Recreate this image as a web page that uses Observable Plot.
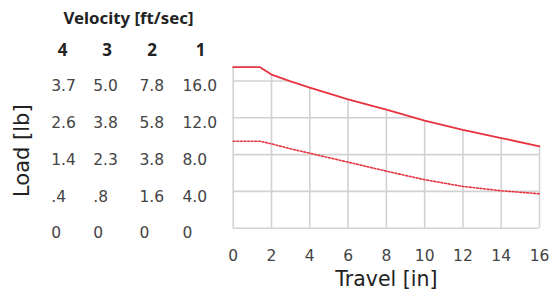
<!DOCTYPE html>
<html>
<head>
<meta charset="utf-8">
<script src="https://cdn.jsdelivr.net/npm/d3@7"></script>
<script src="https://cdn.jsdelivr.net/npm/@observablehq/plot@0.6"></script>
<style>
  html, body { margin: 0; padding: 0; background: #fff; }
  svg { display: block; }
</style>
</head>
<body>
<div id="chart"></div>
<script>
// ---- data ----
const travel = [0, 1.4, 2, 3, 4, 6, 8, 10, 12, 14, 16];
const loadSolid = [17.5, 17.5, 16.7, 15.95, 15.28, 14.0, 12.9, 11.7, 10.7, 9.8, 8.9];
const loadDotted = [9.45, 9.45, 9.17, 8.63, 8.15, 7.18, 6.2, 5.27, 4.54, 4.07, 3.74];

const xTicks = [0, 2, 4, 6, 8, 10, 12, 14, 16];
const loadRows = [16, 12, 8, 4, 0];
const velocityHeaders = ["4", "3", "2", "1"];
const vel4 = ["3.7", "2.6", "1.4", ".4", "0"];
const vel3 = ["5.0", "3.8", "2.3", ".8", "0"];
const vel2 = ["7.8", "5.8", "3.8", "1.6", "0"];
const vel1 = ["16.0", "12.0", "8.0", "4.0", "0"];
const titleText = "Velocity [ft/sec]";
const yLabel = "Load [lb]";
const xLabel = "Travel [in]";

// ---- derived ----
const solid = travel.map((t, i) => ({x: t, y: loadSolid[i]}));
const dotted = travel.map((t, i) => ({x: t, y: loadDotted[i]}));

function solidAt(x) {
  for (let i = 0; i < travel.length - 1; i++) {
    if (x >= travel[i] && x <= travel[i + 1]) {
      const f = (x - travel[i]) / (travel[i + 1] - travel[i]);
      return loadSolid[i] + f * (loadSolid[i + 1] - loadSolid[i]);
    }
  }
  return loadSolid[loadSolid.length - 1];
}
function crossX(v) {
  for (let i = 0; i < travel.length - 1; i++) {
    const a = loadSolid[i], b = loadSolid[i + 1];
    if (a >= v && b <= v && a !== b) {
      return travel[i] + (a - v) / (a - b) * (travel[i + 1] - travel[i]);
    }
  }
  return travel[travel.length - 1];
}
const vGrid = xTicks.map(x => ({x, y2: solidAt(x)}));
const hGrid = loadRows.map(y => ({y, x2: crossX(y)}));

const red = "#e8333f";
const grid = "#d2d2d2";
const txt = "#444";
const numFont = "'DejaVu Sans', sans-serif";
const boldFont = "'Noto Sans', sans-serif";

const cols = [vel4, vel3, vel2, vel1];
const colDx = [-182, -140, -93.7, -50.7];
const headDx = [-170.7, -126, -81, -32.7];

const tableMarks = cols.map((col, c) =>
  Plot.text(loadRows.map((r, i) => ({y: r, label: col[i]})), {
    x: () => 0, y: "y", text: "label",
    textAnchor: "start", lineAnchor: "middle", dx: colDx[c], dy: 5.3,
    fontSize: 15.5, fill: txt, fontFamily: numFont
  })
);
const headMarks = velocityHeaders.map((h, c) =>
  Plot.text([h], {
    frameAnchor: "top-left", text: d => d, textAnchor: "middle", lineAnchor: "middle",
    dx: headDx[c], dy: -16.2, fontSize: 17, fontWeight: "bold", fill: "#222", fontFamily: boldFont
  })
);

const chart = Plot.plot({
  width: 554,
  height: 297,
  marginLeft: 232.7,
  marginRight: 15,
  marginTop: 66.7,
  marginBottom: 69.3,
  style: {fontFamily: numFont, background: "#fff"},
  x: {domain: [0, 16], axis: null},
  y: {domain: [0, 17.5], axis: null},
  marks: [
    Plot.ruleX(vGrid, {x: "x", y1: 0, y2: "y2", stroke: grid, strokeWidth: 1.6}),
    Plot.ruleY(hGrid, {y: "y", x1: 0, x2: "x2", stroke: grid, strokeWidth: 1.6}),
    Plot.line(dotted, {x: "x", y: "y", stroke: red, strokeWidth: 1.6, strokeDasharray: "1.8,1.8"}),
    Plot.line(solid, {x: "x", y: "y", stroke: red, strokeWidth: 1.8}),
    Plot.text(xTicks, {x: d => d, frameAnchor: "bottom", lineAnchor: "middle", text: d => String(d),
      dy: 27.5, fontSize: 15.5, fill: txt}),
    Plot.text([xLabel], {frameAnchor: "bottom", lineAnchor: "middle", textAnchor: "middle", text: d => d,
      dy: 51, fontSize: 20.5, fill: "#222"}),
    Plot.text([yLabel], {frameAnchor: "left", lineAnchor: "middle", textAnchor: "middle", text: d => d,
      dx: -210.7, dy: 3, rotate: -90, fontSize: 21, fill: "#222"}),
    Plot.text([titleText], {frameAnchor: "top-left", lineAnchor: "middle", textAnchor: "middle", text: d => d,
      dx: -104.7, dy: -48.7, fontSize: 16.8, fontWeight: "bold", fill: "#222", fontFamily: boldFont}),
    ...headMarks,
    ...tableMarks
  ]
});
document.getElementById("chart").appendChild(chart);
</script>
</body>
</html>
